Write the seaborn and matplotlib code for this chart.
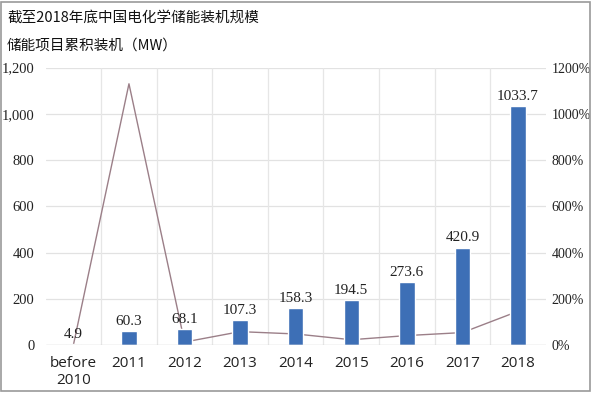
import pandas as pd
import seaborn as sns
import matplotlib.pyplot as plt
from matplotlib.patches import Rectangle
from matplotlib.ticker import FuncFormatter

# Data
years = ["before\n2010", "2011", "2012", "2013", "2014", "2015", "2016", "2017", "2018"]
capacity = [4.9, 60.3, 68.1, 107.3, 158.3, 194.5, 273.6, 420.9, 1033.7]
growth = [0, 1130, 13, 58, 48, 23, 41, 54, 146]

df = pd.DataFrame({"year": years, "capacity": capacity, "growth": growth})

sns.set_style("white")
plt.rcParams["font.family"] = ["Liberation Serif", "Noto Sans CJK SC", "DejaVu Sans"]

fig = plt.figure(figsize=(5.92, 3.93), dpi=100)
ax = fig.add_axes([0.077, 0.122, 0.845, 0.706])
ax2 = ax.twinx()

bg = "#f3f3f3"
ax2.patch.set_facecolor(bg)
ax.set_zorder(ax2.get_zorder() + 1)
ax.patch.set_visible(False)

sns.barplot(data=df, x="year", y="capacity", color="#3d6fb6", width=0.28,
            saturation=1, ax=ax, zorder=3)
ax2.plot(range(len(years)), df["growth"], color="#9b7f88", linewidth=1.0)

ax.set_ylim(0, 1200)
ax.set_yticks(range(0, 1201, 200))
ax.yaxis.set_major_formatter(FuncFormatter(lambda v, p: f"{int(v):,}"))
ax2.set_ylim(0, 1200)
ax2.set_yticks(range(0, 1201, 200))
ax2.yaxis.set_major_formatter(FuncFormatter(lambda v, p: f"{int(v)}%"))
ax.set_xlim(-0.5, len(years) - 0.5)

# grid: horizontal lines and category boundaries
for v in range(200, 1201, 200):
    ax2.axhline(v, color="#e2e2e2", linewidth=0.9, zorder=0)
for i in range(len(years) - 1):
    ax2.axvline(i + 0.5, color="#e6e6e6", linewidth=0.9, zorder=0)

for s in ["top", "right", "left", "bottom"]:
    ax.spines[s].set_visible(False)
    ax2.spines[s].set_visible(False)
ax.axhline(0, color="#d0d0d0", linewidth=1.0, zorder=4)

ax.set_xlabel("")
ax.set_ylabel("")
ax.tick_params(axis="y", length=0, labelsize=10.5, colors="#222222", pad=8)
ax2.tick_params(axis="y", length=0, labelsize=10, colors="#222222", pad=4)
ax.tick_params(axis="x", length=0, pad=8)
for lbl in ax.get_xticklabels():
    lbl.set_fontfamily(["Open Sans", "DejaVu Sans"])
    lbl.set_fontsize(11)
    lbl.set_color("#222222")

for i, v in enumerate(capacity):
    ax.text(i, v + 14, f"{v}", ha="center", va="bottom", fontsize=11,
            color="#222222", zorder=5)

fig.text(0.012, 0.955, "截至2018年底中国电化学储能装机规模", fontsize=10.5,
         family=["Noto Sans CJK SC", "DejaVu Sans"], color="#111111", va="center")
fig.text(0.012, 0.885, "储能项目累积装机（MW）", fontsize=10.5,
         family=["Noto Sans CJK SC", "DejaVu Sans"], color="#111111", va="center")

fig.patches.append(Rectangle((0.002, 0.004), 0.994, 0.99, transform=fig.transFigure,
                             fill=False, edgecolor="#9a9a9a", linewidth=1.2))

fig.savefig("out.png", dpi=100)
